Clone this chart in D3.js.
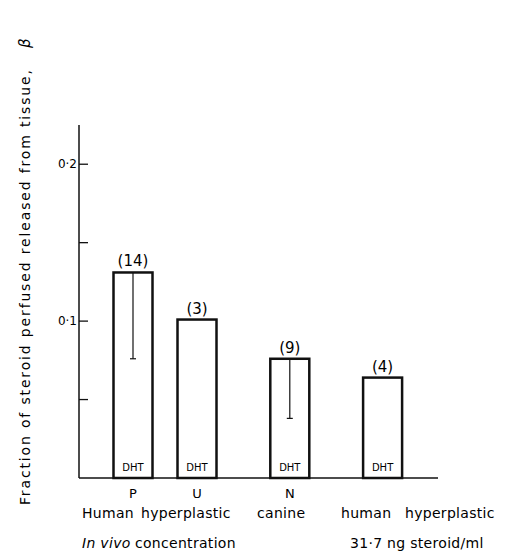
<!DOCTYPE html>
<html>
<head>
<meta charset="utf-8">
<script src="https://cdn.jsdelivr.net/npm/d3@7"></script>
<style>
  body { margin: 0; background: #fff; }
  svg { font-family: "DejaVu Sans", "Noto Sans", sans-serif; }
</style>
</head>
<body>
<div id="chart"></div>
<script>
// bar data
const CODES = ["P", "U", "N", ""];
const GROUPS = ["human-vivo", "human-vivo", "canine", "human-31.7"];
const VALUES = [0.131, 0.101, 0.076, 0.064];
const ERRORS = [0.055, null, 0.038, null];
const COUNTS = ["(14)", "(3)", "(9)", "(4)"];
const STEROID = ["DHT", "DHT", "DHT", "DHT"];
const Y_TICKS = [0.05, 0.1, 0.15, 0.2];
const Y_LABELS = { 0.1: "0·1", 0.2: "0·2" };

let width = 506, height = 553;
let svg = d3.select('#chart').append('svg')
    .attr('width', width)
    .attr('height', height);

// layout: bars in the same group sit closer together
let groupGap = 0.45;
let slot = [];
let g = 0;
GROUPS.forEach((d, i) => {
    if (i > 0 && d !== GROUPS[i - 1]) g++;
    slot.push(i + g * groupGap);
});

let x = d3.scaleLinear().domain([0, 1]).range([133, 197]);
let y = d3.scaleLinear().domain([0, 0.225]).range([478, 125]);
let barW = 39;

// y axis
svg.append('line')
    .attr('x1', 79).attr('x2', 79)
    .attr('y1', y(0.225)).attr('y2', y(0))
    .attr('stroke', '#111').attr('stroke-width', 1.5);

svg.selectAll('.tick')
    .data(Y_TICKS)
    .enter()
    .append('line')
    .attr('x1', 79).attr('x2', 88)
    .attr('y1', d => y(d)).attr('y2', d => y(d))
    .attr('stroke', '#111').attr('stroke-width', 1.3);

svg.selectAll('.ylab')
    .data(Y_TICKS.filter(d => Y_LABELS[d]))
    .enter()
    .append('text')
    .attr('x', 77)
    .attr('y', d => y(d) + 4)
    .attr('text-anchor', 'end')
    .attr('font-size', 12)
    .text(d => Y_LABELS[d]);

// x baseline
svg.append('line')
    .attr('x1', 79).attr('x2', 438)
    .attr('y1', y(0)).attr('y2', y(0))
    .attr('stroke', '#111').attr('stroke-width', 1.5);

// bars
svg.selectAll('.bar')
    .data(VALUES)
    .enter()
    .append('rect')
    .attr('x', (d, i) => x(slot[i]) - barW / 2)
    .attr('y', d => y(d))
    .attr('width', barW)
    .attr('height', d => y(0) - y(d))
    .attr('fill', 'none')
    .attr('stroke', '#111')
    .attr('stroke-width', 2.5);

// error bars (lower half only)
VALUES.forEach((v, i) => {
    if (ERRORS[i] == null) return;
    let cx = x(slot[i]);
    svg.append('line')
        .attr('x1', cx).attr('x2', cx)
        .attr('y1', y(v)).attr('y2', y(v - ERRORS[i]))
        .attr('stroke', '#111').attr('stroke-width', 1.2);
    svg.append('line')
        .attr('x1', cx - 3).attr('x2', cx + 3)
        .attr('y1', y(v - ERRORS[i])).attr('y2', y(v - ERRORS[i]))
        .attr('stroke', '#111').attr('stroke-width', 1.2);
});

// counts above bars
svg.selectAll('.count')
    .data(COUNTS)
    .enter()
    .append('text')
    .attr('x', (d, i) => x(slot[i]))
    .attr('y', (d, i) => y(VALUES[i]) - 6)
    .attr('text-anchor', 'middle')
    .attr('font-size', 15)
    .text(d => d);

// DHT inside bars
svg.selectAll('.steroid')
    .data(STEROID)
    .enter()
    .append('text')
    .attr('x', (d, i) => x(slot[i]))
    .attr('y', y(0) - 7)
    .attr('text-anchor', 'middle')
    .attr('font-size', 10)
    .text(d => d);

// codes under bars
svg.selectAll('.code')
    .data(CODES)
    .enter()
    .append('text')
    .attr('x', (d, i) => x(slot[i]))
    .attr('y', 498)
    .attr('text-anchor', 'middle')
    .attr('font-size', 13)
    .text(d => d);

// group captions
let cap1 = svg.append('text').attr('y', 518).attr('font-size', 14).attr('letter-spacing', 0.3);
cap1.append('tspan').attr('x', 82).text('Human');
cap1.append('tspan').attr('x', 141).text('hyperplastic');
cap1.append('tspan').attr('x', 257).text('canine');
cap1.append('tspan').attr('x', 341).text('human');
cap1.append('tspan').attr('x', 405).text('hyperplastic');

let cap2 = svg.append('text').attr('y', 548).attr('font-size', 14).attr('letter-spacing', 0.3);
cap2.append('tspan').attr('x', 82).attr('font-style', 'italic').text('In vivo');
cap2.append('tspan').attr('x', 135).text('concentration');
cap2.append('tspan').attr('x', 350).text('31·7 ng steroid/ml');

// y axis title
svg.append('text')
    .attr('transform', 'translate(30, 505) rotate(-90)')
    .attr('font-size', 14)
    .attr('textLength', 435)
    .attr('lengthAdjust', 'spacing')
    .text('Fraction of steroid perfused released from tissue,');
svg.append('text')
    .attr('transform', 'translate(30, 48) rotate(-90)')
    .attr('font-size', 15)
    .attr('font-style', 'italic')
    .text('β');
</script>
</body>
</html>
